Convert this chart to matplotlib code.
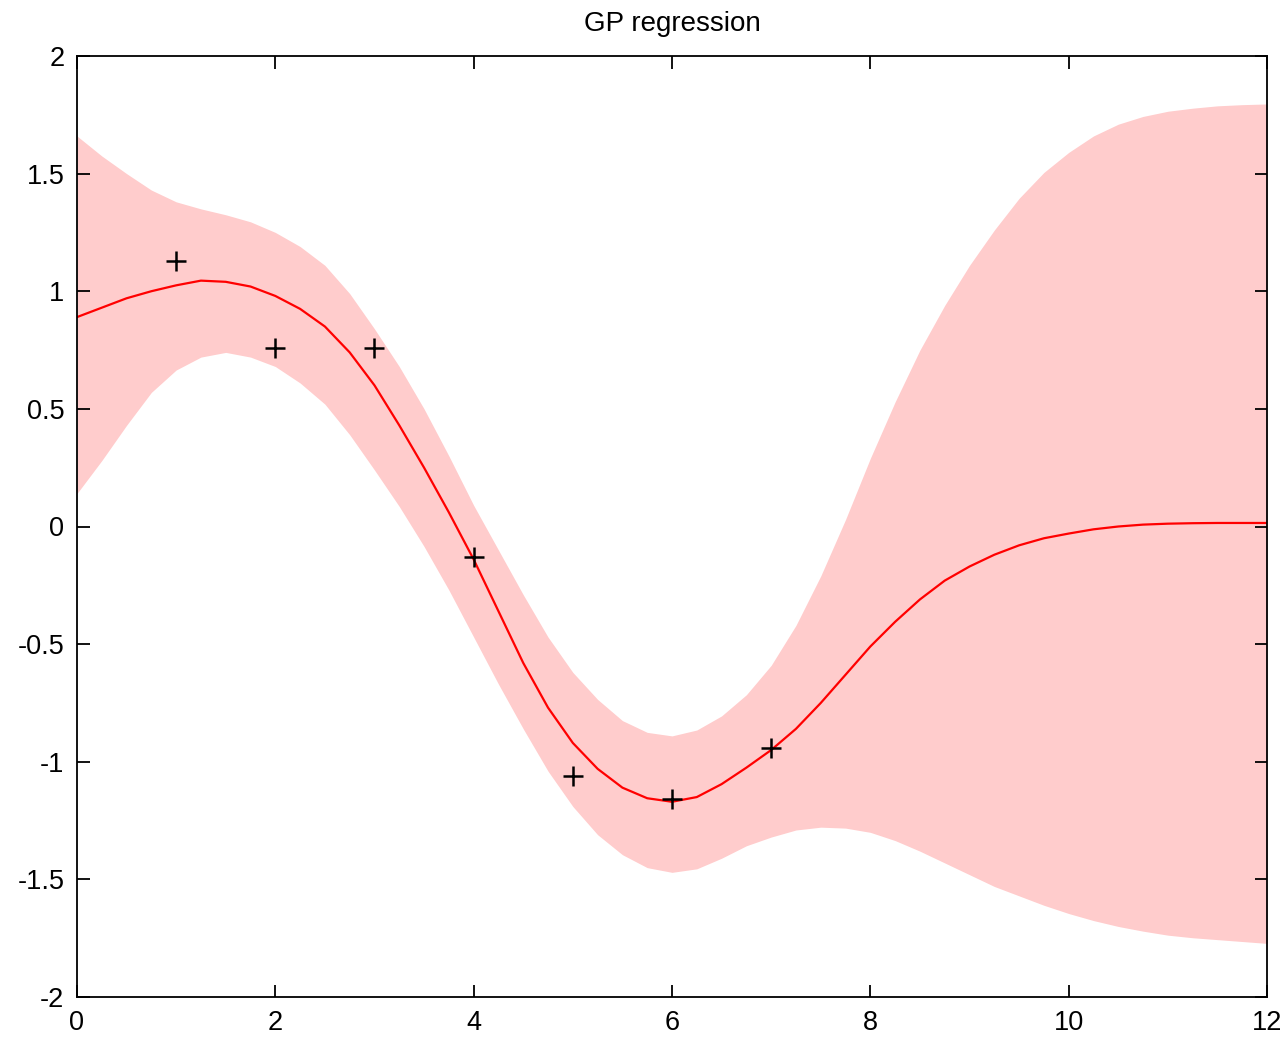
# GP regression plot: posterior mean, +/- 2 sd band, training points
import numpy as np
import matplotlib
matplotlib.use("Agg")
import matplotlib.pyplot as plt

# --- training data ---
x_train = [1, 2, 3, 4, 5, 6, 7]
y_train = [1.13, 0.76, 0.76, -0.13, -1.06, -1.16, -0.94]

# --- posterior, every 0.25 ---
x_grid = np.arange(0, 12.001, 0.25)
mean = [0.89, 0.93, 0.97, 1.00, 1.025, 1.045, 1.04, 1.02, 0.98, 0.925, 0.85, 0.74,
        0.60, 0.43, 0.25, 0.06, -0.14, -0.36, -0.58, -0.77, -0.92, -1.03, -1.11, -1.155,
        -1.17, -1.15, -1.095, -1.025, -0.95, -0.86, -0.75, -0.63, -0.51, -0.405, -0.31, -0.23,
        -0.17, -0.12, -0.08, -0.05, -0.03, -0.012, 0.0, 0.008, 0.012, 0.014, 0.015, 0.015,
        0.015]
upper = [1.66, 1.575, 1.50, 1.43, 1.38, 1.35, 1.325, 1.295, 1.25, 1.19, 1.11, 0.99,
         0.84, 0.68, 0.50, 0.30, 0.09, -0.10, -0.29, -0.47, -0.62, -0.735, -0.825, -0.875,
         -0.89, -0.865, -0.805, -0.715, -0.59, -0.42, -0.21, 0.03, 0.29, 0.53, 0.75, 0.94,
         1.11, 1.26, 1.395, 1.505, 1.59, 1.66, 1.71, 1.743, 1.765, 1.778, 1.788, 1.793,
         1.796]
lower = [0.14, 0.28, 0.43, 0.57, 0.665, 0.72, 0.74, 0.72, 0.68, 0.61, 0.52, 0.39,
         0.24, 0.085, -0.085, -0.27, -0.47, -0.67, -0.86, -1.04, -1.19, -1.31, -1.395, -1.45,
         -1.47, -1.455, -1.41, -1.357, -1.32, -1.29, -1.278, -1.282, -1.30, -1.335, -1.38, -1.43,
         -1.48, -1.53, -1.57, -1.61, -1.645, -1.675, -1.70, -1.72, -1.737, -1.748, -1.756, -1.764,
         -1.772]

x_ticks = [0, 2, 4, 6, 8, 10, 12]
y_ticks = [-2, -1.5, -1, -0.5, 0, 0.5, 1, 1.5, 2]
y_ticklabels = ["-2", "-1.5", "-1", "-0.5", "0", "0.5", "1", "1.5", "2"]

plt.rcParams["font.family"] = ["Liberation Sans", "DejaVu Sans"]

fig = plt.figure(figsize=(12.87, 10.40), dpi=100)
ax = fig.add_axes([0.0598, 0.0413, 0.9247, 0.9049])

ax.fill_between(x_grid, lower, upper, color="#ffcccc", linewidth=0)
ax.plot(x_grid, mean, color="red", linewidth=1.6)
ax.plot(x_train, y_train, "+", color="black", markersize=14, markeredgewidth=1.8)

ax.set_xlim(0, 12)
ax.set_ylim(-2, 2)
ax.set_xticks(x_ticks)
ax.set_xticklabels([str(t) for t in x_ticks])
ax.set_yticks(y_ticks)
ax.set_yticklabels(y_ticklabels)
ax.tick_params(direction="in", length=9, width=1.3, top=True, right=True,
               labelsize=19.5, pad=9)
for s in ax.spines.values():
    s.set_linewidth(1.3)

ax.set_title("GP regression", fontsize=20, pad=18)

fig.savefig("out.png", dpi=100)
